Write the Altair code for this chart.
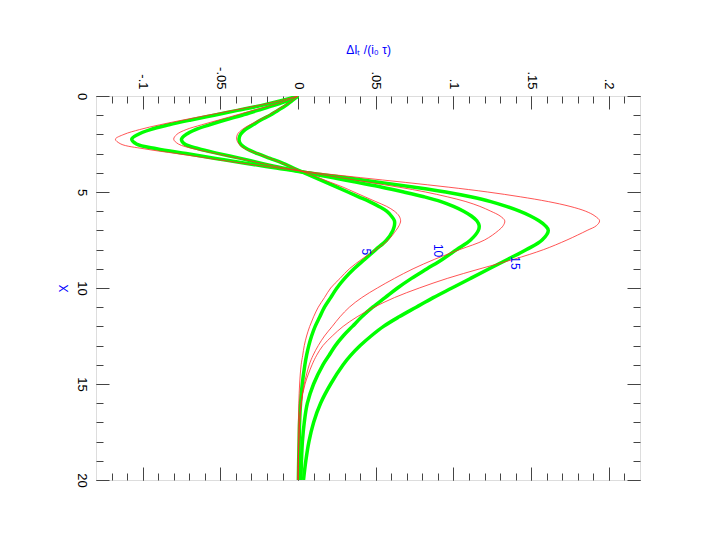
import altair as alt
import pandas as pd

# ---- data ----
X_GRID = [0, 0.25, 0.5, 0.75, 1.0, 1.25, 1.5, 1.75, 2.0, 2.25, 2.5, 2.75, 3.0, 3.25, 3.5, 3.75,
          4.0, 4.25, 4.5, 4.75, 5.0, 5.25, 5.5, 5.75, 6.0, 6.25, 6.5, 6.75, 7.0,
          7.5, 8.0, 8.5, 9.0, 9.5, 10.0, 10.5, 11.0, 11.5, 12.0, 12.5, 13.0, 13.5, 14.0,
          15.0, 16.0, 17.0, 18.0, 19.0, 20.0]

G5 = [0, -0.004, -0.008, -0.013, -0.018, -0.024, -0.029, -0.034, -0.037, -0.038, -0.037, -0.033,
      -0.026, -0.018, -0.010, -0.003, 0.004, 0.011, 0.018, 0.025, 0.032, 0.039, 0.046, 0.052,
      0.057, 0.060, 0.062, 0.062, 0.061, 0.057, 0.050, 0.043, 0.036, 0.030, 0.025, 0.021, 0.017,
      0.014, 0.011, 0.0087, 0.0069, 0.0055, 0.0044, 0.0027, 0.0016, 0.001, 0.0007, 0.0004, 0.0002]
G10 = [0, -0.007, -0.016, -0.026, -0.036, -0.047, -0.057, -0.066, -0.072, -0.075, -0.073, -0.064,
       -0.051, -0.037, -0.024, -0.010, 0.006, 0.022, 0.038, 0.054, 0.068, 0.081, 0.092, 0.100,
       0.1065, 0.1115, 0.115, 0.1165, 0.116, 0.111, 0.102, 0.093, 0.083, 0.073, 0.064, 0.056, 0.048,
       0.041, 0.035, 0.029, 0.024, 0.020, 0.016, 0.010, 0.006, 0.004, 0.0028, 0.0022, 0.0018]
G15 = [0, -0.011, -0.024, -0.039, -0.054, -0.069, -0.083, -0.095, -0.103, -0.107, -0.104, -0.091,
       -0.072, -0.053, -0.034, -0.014, 0.006, 0.030, 0.053, 0.075, 0.095, 0.111, 0.124, 0.134,
       0.1425, 0.1495, 0.155, 0.159, 0.161, 0.157, 0.147, 0.135, 0.123, 0.111, 0.099, 0.087, 0.076,
       0.065, 0.055, 0.047, 0.040, 0.034, 0.029, 0.021, 0.0145, 0.010, 0.007, 0.005, 0.0035]
R5 = [0, -0.004, -0.009, -0.014, -0.019, -0.025, -0.031, -0.036, -0.039, -0.0395, -0.038, -0.034,
      -0.026, -0.018, -0.010, -0.003, 0.005, 0.013, 0.021, 0.029, 0.036, 0.043, 0.050, 0.057,
      0.062, 0.065, 0.066, 0.065, 0.063, 0.058, 0.050, 0.041, 0.033, 0.027, 0.021, 0.017, 0.013,
      0.010, 0.0075, 0.0055, 0.004, 0.003, 0.002, 0.001, 0.0005, 0.0002, 0.0001, 0.0, 0.0]
R10 = [0, -0.008, -0.018, -0.029, -0.040, -0.051, -0.062, -0.072, -0.078, -0.080, -0.077, -0.067,
       -0.053, -0.038, -0.024, -0.009, 0.008, 0.027, 0.046, 0.065, 0.082, 0.096, 0.108, 0.117,
       0.124, 0.130, 0.133, 0.132, 0.129, 0.120, 0.104, 0.088, 0.074, 0.062, 0.051, 0.041, 0.033,
       0.027, 0.022, 0.017, 0.013, 0.0097, 0.0072, 0.004, 0.002, 0.001, 0.0005, 0.0002, 0.0]
R15 = [0, -0.012, -0.026, -0.042, -0.058, -0.074, -0.089, -0.102, -0.112, -0.1175, -0.114, -0.099,
       -0.078, -0.057, -0.036, -0.013, 0.012, 0.040, 0.069, 0.097, 0.122, 0.143, 0.161, 0.175,
       0.185, 0.191, 0.194, 0.192, 0.186, 0.173, 0.158, 0.139, 0.117, 0.096, 0.078, 0.062, 0.049,
       0.038, 0.029, 0.022, 0.016, 0.012, 0.009, 0.0045, 0.002, 0.001, 0.0005, 0.0002, 0.0]

CURVE_LABELS = ["5", "10", "15"]
CURVE_LABEL_V = [0.0437, 0.0899, 0.1397]
CURVE_LABEL_X = [8.12, 8.05, 8.70]

X_TICKS = [-0.1, -0.05, 0, 0.05, 0.1, 0.15, 0.2]
Y_TICKS = [0, 5, 10, 15, 20]
X_MINOR = [round(-0.12 + 0.01 * i, 2) for i in range(34)]
Y_MINOR = list(range(0, 21))

X_TITLE = "ΔIₜ /(i₀ τ)"
Y_TITLE = "X"

# ---- tables ----
def table(series):
    rows = []
    for name, vals in series:
        for x, v in zip(X_GRID, vals):
            rows.append({"series": name, "X": x, "v": v})
    return pd.DataFrame(rows)

green_df = table([("5", G5), ("10", G10), ("15", G15)])
red_df = table([("5", R5), ("10", R10), ("15", R15)])
lab_df = pd.DataFrame({"label": CURVE_LABELS, "v": CURVE_LABEL_V, "X": CURVE_LABEL_X})

xs = alt.Scale(domain=[-0.13, 0.22], nice=False, zero=False)
ys = alt.Scale(domain=[0, 20], nice=False, zero=False, reverse=True)

FONT = "Liberation Sans"
TICK = "#444444"
BLUE = "#0000ff"

def tick_axis(orient, values, size, **kw):
    base = dict(orient=orient, values=values, tickSize=size, offset=-size, domain=False,
                grid=False, labels=False, title=None, tickColor=TICK, tickWidth=1,
                minExtent=0)
    base.update(kw)
    return alt.Axis(**base)

top_major = tick_axis(
    "top", X_TICKS, 13, labels=True, labelAngle=90, labelAlign="right",
    labelBaseline="middle", labelPadding=7, labelFont=FONT, labelFontSize=13,
    labelColor="black", labelFlush=False, labelOverlap=False, labelBound=False,
    labelExpr="replace(datum.value + '', '0.', '.')",
    title=X_TITLE, titleColor=BLUE, titleFont=FONT, titleFontSize=12,
    titleFontWeight="normal", titlePadding=10)
left_major = tick_axis(
    "left", Y_TICKS, 13, labels=True, labelAngle=90, labelAlign="center",
    labelBaseline="top", labelPadding=9, labelFont=FONT, labelFontSize=13,
    labelColor="black", labelFlush=False, labelOverlap=False, labelBound=False,
    title=Y_TITLE, titleColor=BLUE, titleFont=FONT, titleFontSize=12,
    titleFontWeight="normal", titlePadding=4)

def ghost(xaxis, yaxis):
    return alt.Chart(green_df).mark_point(opacity=0).encode(
        x=alt.X("v:Q", scale=xs, axis=xaxis),
        y=alt.Y("X:Q", scale=ys, axis=yaxis),
    )

g_minor_tl = ghost(tick_axis("top", X_MINOR, 7), tick_axis("left", Y_MINOR, 7))
g_major_br = ghost(tick_axis("bottom", X_TICKS, 13), tick_axis("right", Y_TICKS, 13))
g_minor_br = ghost(tick_axis("bottom", X_MINOR, 7), tick_axis("right", Y_MINOR, 7))

green = alt.Chart(green_df).mark_line(
    color="#00ff00", strokeWidth=3.5, interpolate="catmull-rom", clip=True
).encode(
    x=alt.X("v:Q", scale=xs, axis=top_major),
    y=alt.Y("X:Q", scale=ys, axis=left_major),
    detail="series:N",
    order=alt.Order("X:Q"),
)

red = alt.Chart(red_df).mark_line(
    color="#ff2a2a", strokeWidth=0.8, interpolate="catmull-rom", clip=True
).encode(
    x=alt.X("v:Q", scale=xs, axis=None),
    y=alt.Y("X:Q", scale=ys, axis=None),
    detail="series:N",
    order=alt.Order("X:Q"),
)

labels = alt.Chart(lab_df).mark_text(
    angle=90, color=BLUE, font=FONT, fontSize=12, align="center", baseline="middle"
).encode(
    x=alt.X("v:Q", scale=xs, axis=None),
    y=alt.Y("X:Q", scale=ys, axis=None),
    text="label:N",
)

chart = alt.layer(g_minor_tl, g_major_br, g_minor_br, green, red, labels).resolve_axis(
    x="independent", y="independent"
).properties(
    width=544, height=384,
    autosize=alt.AutoSizeParams(type="none"),
    padding={"left": 88, "top": 88, "right": 55, "bottom": 50},
).configure_view(
    stroke="#808080", strokeWidth=1
).configure(background="white")

chart.save("out.html", embed_options={"renderer": "svg", "actions": False})
